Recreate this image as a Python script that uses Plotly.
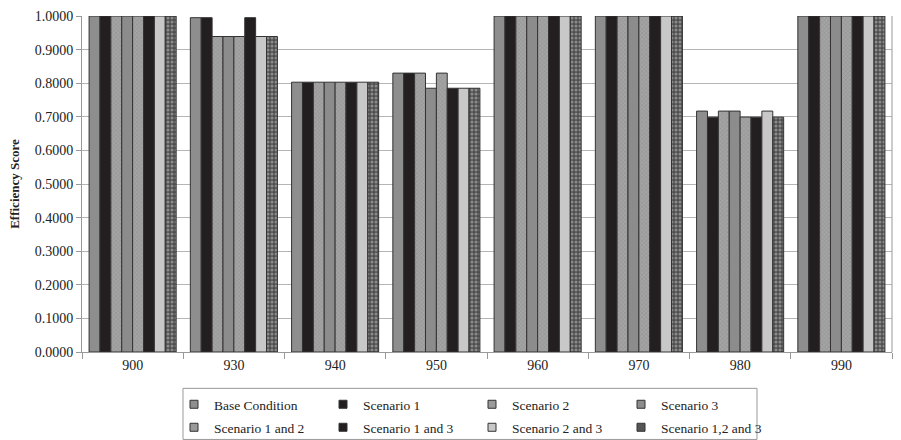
import plotly.graph_objects as go

categories = ["900", "930", "940", "950", "960", "970", "980", "990"]

base_condition = [1.0, 0.9950, 0.8030, 0.8300, 1.0, 1.0, 0.7170, 1.0]
scenario_1 = [1.0, 0.9950, 0.8030, 0.8300, 1.0, 1.0, 0.6990, 1.0]
scenario_2 = [1.0, 0.9390, 0.8030, 0.8300, 1.0, 1.0, 0.7170, 1.0]
scenario_3 = [1.0, 0.9390, 0.8030, 0.7850, 1.0, 1.0, 0.7170, 1.0]
scenario_1_2 = [1.0, 0.9390, 0.8030, 0.8300, 1.0, 1.0, 0.6990, 1.0]
scenario_1_3 = [1.0, 0.9950, 0.8030, 0.7850, 1.0, 1.0, 0.6990, 1.0]
scenario_2_3 = [1.0, 0.9390, 0.8030, 0.7850, 1.0, 1.0, 0.7170, 1.0]
scenario_1_2_3 = [1.0, 0.9390, 0.8030, 0.7850, 1.0, 1.0, 0.6990, 1.0]

y_ticks = [i / 10 for i in range(11)]

hatch = dict(shape="x", fgcolor="#7a7a7a", bgcolor="#a4a4a4", size=3, solidity=0.3)
dots = dict(shape=".", fgcolor="#c8c8c8", bgcolor="#4e4e4e", size=4, solidity=0.45)

series = [
    ("Base Condition", base_condition, "#8e8e8e", None),
    ("Scenario 1", scenario_1, "#231f20", None),
    ("Scenario 2", scenario_2, "#9a9a9a", hatch),
    ("Scenario 3", scenario_3, "#8c8c8c", None),
    ("Scenario 1 and 2", scenario_1_2, "#9a9a9a", hatch),
    ("Scenario 1 and 3", scenario_1_3, "#231f20", None),
    ("Scenario 2 and 3", scenario_2_3, "#c8c8c8", None),
    ("Scenario 1,2 and 3", scenario_1_2_3, "#555555", dots),
]

fig = go.Figure()
for name, vals, color, pattern in series:
    marker = dict(color=color, line=dict(color="#333333", width=1))
    if pattern:
        marker["pattern"] = pattern
    fig.add_trace(go.Bar(name=name, x=categories, y=vals, marker=marker,
                         showlegend=False, legendgroup=name))

# compact square swatches for the legend, four per row
for i, (name, vals, color, pattern) in enumerate(series):
    fig.add_trace(go.Scatter(
        name=name, x=[None], y=[None], mode="markers", legendgroup=name,
        legend="legend" if i < 4 else "legend2",
        marker=dict(symbol="square", size=8, color=color,
                    line=dict(color="#333333", width=1)),
    ))

font_family = "Liberation Serif"

# plot area in pixels, used to place the legend frame
plot_left, plot_right, plot_top, plot_bottom = 82, 892, 10, 352
pw, ph = plot_right - plot_left, plot_bottom - plot_top

legend_common = dict(
    orientation="h",
    xref="container",
    yref="container",
    x=174 / 901,
    xanchor="left",
    yanchor="top",
    entrywidth=104,
    entrywidthmode="pixels",
    borderwidth=0,
    bgcolor="rgba(0,0,0,0)",
    font=dict(size=13.5),
    traceorder="normal",
    itemwidth=30,
    tracegroupgap=0,
)

fig.update_layout(
    width=901,
    height=440,
    margin=dict(l=plot_left, r=901 - plot_right, t=plot_top, b=440 - plot_bottom),
    plot_bgcolor="white",
    paper_bgcolor="white",
    barmode="group",
    bargap=0.14,
    bargroupgap=0,
    font=dict(family=font_family, size=13, color="#222222"),
    xaxis=dict(
        type="category",
        showline=True,
        linecolor="#999999",
        linewidth=1,
        ticks="outside",
        tickson="boundaries",
        ticklen=6,
        tickcolor="#999999",
        tickfont=dict(size=14),
    ),
    yaxis=dict(
        range=[0, 1.0],
        tickvals=y_ticks,
        tickformat=".4f",
        showgrid=True,
        gridcolor="#b5b5b5",
        gridwidth=1,
        showline=True,
        linecolor="#999999",
        ticks="outside",
        ticklen=5,
        tickcolor="#999999",
        tickfont=dict(size=14),
        title=dict(text="<b>Efficiency Score</b>", font=dict(size=13), standoff=12),
        zeroline=False,
    ),
    legend=dict(legend_common, y=1 - 389 / 440),
    legend2=dict(legend_common, y=1 - 412 / 440),
)

# right frame line of the plotting area
fig.add_shape(type="line", xref="paper", yref="paper", x0=1, x1=1, y0=0, y1=1,
              line=dict(color="#999999", width=1))

# legend frame
fig.add_shape(type="rect", xref="paper", yref="paper",
              x0=(183 - plot_left) / pw, x1=(757 - plot_left) / pw,
              y0=(plot_bottom - 389) / ph, y1=(plot_bottom - 441) / ph,
              line=dict(color="#999999", width=1), fillcolor="rgba(0,0,0,0)")

fig.write_html("out.html")
